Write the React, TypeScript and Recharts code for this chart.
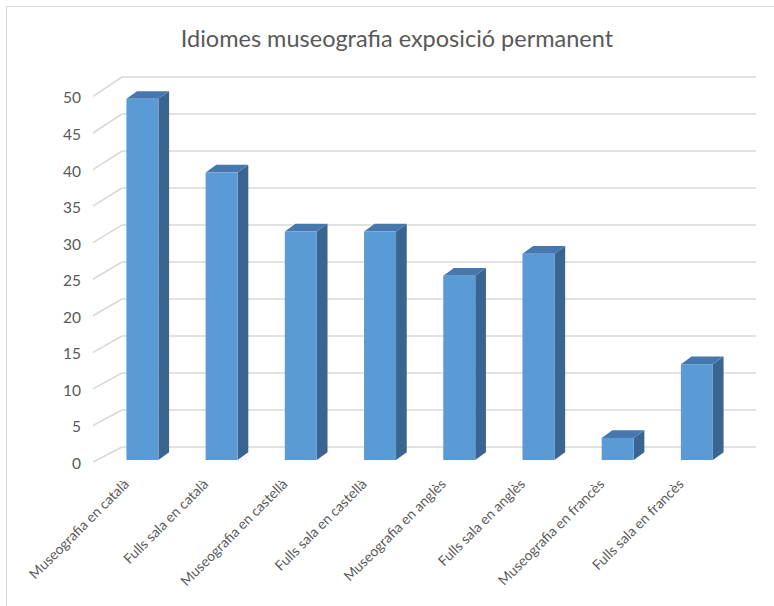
import React from 'react';
import { BarChart, Bar, XAxis, YAxis, CartesianGrid } from 'recharts';

const categories = [
  'Museografia en català',
  'Fulls sala en català',
  'Museografia en castellà',
  'Fulls sala en castellà',
  'Museografia en anglès',
  'Fulls sala en anglès',
  'Museografia en francès',
  'Fulls sala en francès',
];
const values = [49, 39, 31, 31, 25, 28, 3, 13];
const yTicks = [0, 5, 10, 15, 20, 25, 30, 35, 40, 45, 50];
const title = 'Idiomes museografia exposició permanent';

const data = categories.map((name, i) => ({ name, value: values[i] }));

const FONT = 'Lato, "Open Sans", sans-serif';
const TEXT = '#595959';
const GRID = '#D9D9D9';
const BOTTOM = 460;
const backY = (y: number) => 447 - (BOTTOM - y) * (370 / 368.5);
const frontY = (y: number) => BOTTOM - (BOTTOM - y) * 0.992;

const Bar3D = (props: any) => {
  const { x, y, width, height } = props;
  if (height == null || isNaN(height)) return null;
  const dx = 10.7;
  const dy = -7.7;
  const b = y + height;
  const side = `M${x + width},${y} L${x + width + dx},${y + dy} L${x + width + dx},${b + dy} L${x + width},${b} Z`;
  const top = `M${x},${y} L${x + dx},${y + dy} L${x + width + dx},${y + dy} L${x + width},${y} Z`;
  return (
    <g>
      <path d={side} fill="#3A6591" />
      <path d={top} fill="#4677AE" />
      <rect x={x} y={y} width={width} height={height} fill="#5B9BD5" />
    </g>
  );
};

const gridLine = (props: any) => {
  const { y1, index } = props;
  const by = backY(y1);
  const fy = frontY(y1) + 2;
  return (
    <g key={`g-${index}`}>
      <line x1={122} x2={756} y1={by} y2={by} stroke={GRID} strokeWidth={1.6} />
      <line x1={93} y1={fy} x2={122} y2={by} stroke={GRID} strokeWidth={1.6} />
    </g>
  );
};

const YTick = (props: any) => {
  const { y, payload } = props;
  return (
    <text
      x={81}
      y={frontY(y) + 3}
      textAnchor="end"
      dominantBaseline="central"
      fill={TEXT}
      fontSize={15.5}
      fontFamily={FONT}
    >
      {payload.value}
    </text>
  );
};

const XTick = (props: any) => {
  const { x, payload } = props;
  const ax = x - 12;
  const ay = 485;
  return (
    <text
      x={ax}
      y={ay}
      textAnchor="end"
      fill={TEXT}
      fontSize={14}
      fontFamily={FONT}
      transform={`rotate(-45 ${ax} ${ay})`}
    >
      {payload.value}
    </text>
  );
};

export default function App() {
  return (
    <div
      style={{
        position: 'fixed',
        left: 0,
        top: 0,
        width: 774,
        height: 606,
        overflow: 'hidden',
        background: '#fff',
      }}
    >
      <div
        style={{
          position: 'absolute',
          left: 6,
          top: 6,
          width: 900,
          height: 800,
          borderLeft: `1.5px solid ${GRID}`,
          borderTop: `1.5px solid ${GRID}`,
        }}
      />
      <div
        style={{
          position: 'absolute',
          left: 0,
          width: 794,
          top: 23,
          textAlign: 'center',
          fontFamily: FONT,
          fontSize: 23.5,
          color: TEXT,
          lineHeight: '30px',
        }}
      >
        {title}
      </div>
      <div style={{ position: 'absolute', left: 0, top: 0 }}>
        <BarChart
          width={774}
          height={606}
          data={data}
          margin={{ top: 91.5, right: 37.9, bottom: 0, left: 2.4 }}
          barCategoryGap={0}
        >
          <CartesianGrid vertical={false} horizontal={gridLine} />
          <XAxis
            dataKey="name"
            height={146}
            axisLine={false}
            tickLine={false}
            interval={0}
            tick={<XTick />}
          />
          <YAxis
            width={100}
            domain={[0, 50]}
            ticks={yTicks}
            axisLine={false}
            tickLine={false}
            tick={<YTick />}
            interval={0}
          />
          <Bar dataKey="value" barSize={32} shape={<Bar3D />} isAnimationActive={false} />
        </BarChart>
      </div>
    </div>
  );
}
